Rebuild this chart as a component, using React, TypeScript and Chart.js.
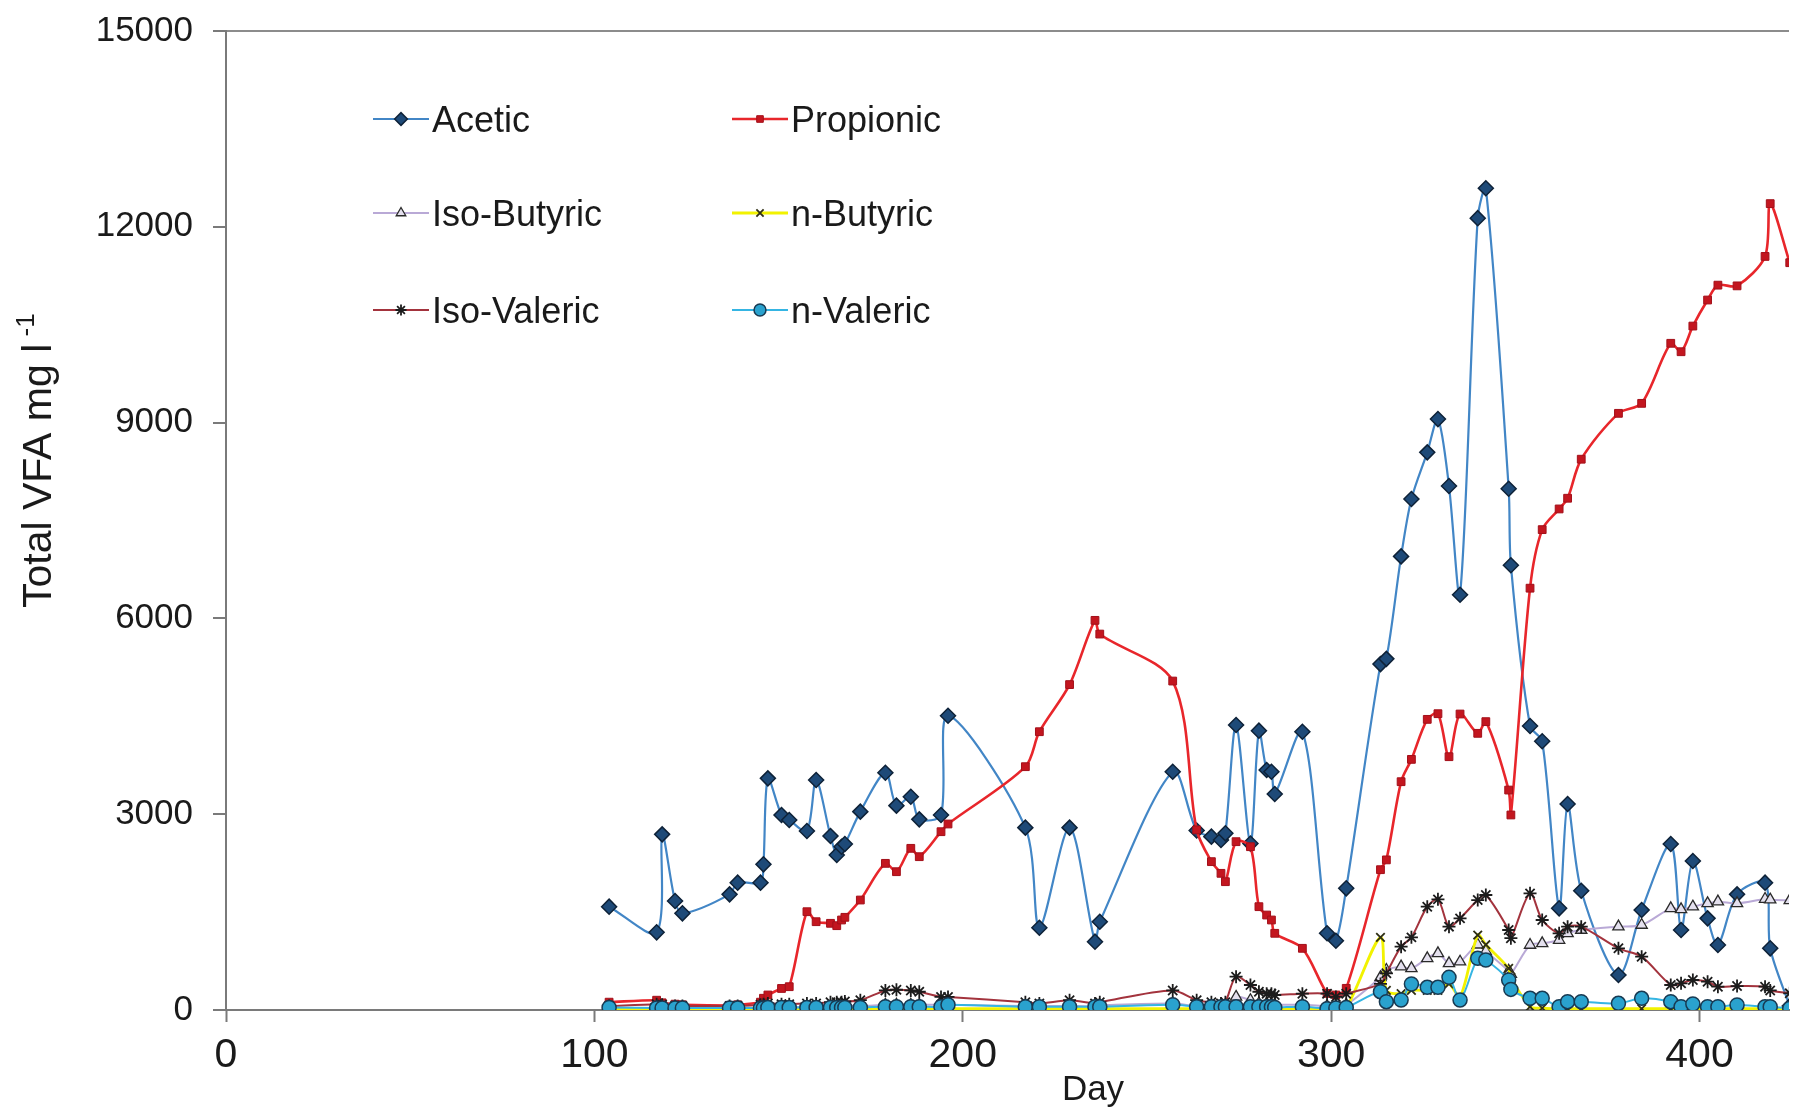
import React, { useEffect, useRef } from "react";
import { Chart, registerables } from "chart.js";
import { drawPoint } from "chart.js/helpers";

Chart.register(...registerables);

const W = 1798;
const H = 1111;
const XMAX = 424.3;
const FONT = "'Liberation Sans', Arial, Helvetica, sans-serif";

const xTicks = [0, 100, 200, 300, 400];
const yTicks = [0, 3000, 6000, 9000, 12000, 15000];

const days = [
  104.0, 116.9, 118.4, 121.9, 123.9, 136.7, 138.9, 145.1, 145.9, 147.1,
  150.8, 152.9, 157.7, 160.2, 164.1, 165.8, 167.1, 168.0, 172.2, 179.0,
  182.0, 185.9, 188.2, 194.1, 196.0, 217.0, 220.8, 229.0, 235.9, 237.2,
  257.0, 263.5, 267.5, 270.1, 271.3, 274.2, 278.1, 280.4, 282.5, 283.8,
  284.7, 292.2, 298.9, 301.3, 304.1, 313.4, 315.0, 319.0, 321.8, 326.1,
  329.0, 332.0, 335.0, 339.8, 342.0, 348.2, 348.8, 354.0, 357.3, 361.9,
  364.2, 367.9, 378.0, 384.3, 392.2, 395.0, 398.2, 402.2, 405.0, 410.2,
  417.8, 419.2, 424.5,
];

const acetic = [
  1583, 1190, 2691, 1670, 1481, 1772, 1951, 1951, 2232, 3549,
  2988, 2911, 2742, 3524, 2666, 2375, 2502, 2543, 3039, 3636,
  3131, 3268, 2921, 2988, 4509, 2794, 1261, 2794, 1047, 1353,
  3651, 2750, 2656, 2604, 2707, 4366, 2550, 4280, 3677, 3650,
  3309, 4264, 1175, 1062, 1864, 5300, 5380, 6950, 7829, 8544,
  9054, 8028, 6363, 12132, 12590, 7987, 6815, 4352, 4118, 1558,
  3156, 1828, 536, 1532, 2543, 1225, 2283, 1404, 996, 1772,
  1951, 945, 60,
];

const propionic = [
  120, 150, 110, 90, 80, 70, 80, 120, 180, 230,
  330, 357, 1506, 1353, 1328, 1292, 1379, 1420, 1685, 2247,
  2119, 2477, 2349, 2732, 2850, 3728, 4264, 4986, 5970, 5760,
  5040, 2760, 2273, 2094, 1966, 2579, 2502, 1583, 1455, 1379,
  1175, 945, 255, 230, 332, 2150, 2300, 3498, 3840, 4453,
  4540, 3881, 4535, 4239, 4418, 3370, 2988, 6463, 7360, 7677,
  7841, 8439, 9142, 9295, 10215, 10086, 10479, 10878, 11106, 11095,
  11546, 12355, 11450,
];

const isoButyric = [
  30, 30, 40, 30, 30, 30, 30, 40, 40, 40,
  40, 40, 50, 50, 60, 60, 60, 60, 60, 80,
  80, 80, 80, 80, 80, 60, 60, 60, 60, 70,
  100, 60, 60, 60, 60, 200, 150, 100, 100, 80,
  80, 80, 60, 60, 80, 500, 613, 664, 638, 792,
  868, 715, 740, 1000, 900, 600, 550, 996, 1021, 1072,
  1175, 1226, 1277, 1302, 1558, 1542, 1583, 1634, 1660, 1634,
  1700, 1690, 1680,
];

const nButyric = [
  10, 10, 10, 10, 10, 10, 10, 10, 10, 10,
  10, 10, 10, 10, 10, 10, 10, 10, 10, 20,
  20, 20, 20, 20, 20, 20, 20, 20, 20, 20,
  20, 20, 20, 20, 20, 30, 30, 20, 20, 20,
  20, 20, 20, 20, 30, 1113, 300, 250, 300, 300,
  300, 400, 200, 1149, 1000, 638, 500, 50, 30, 20,
  20, 20, 20, 20, 20, 20, 20, 20, 20, 20,
  20, 20, 20,
];

const isoValeric = [
  60, 90, 80, 60, 60, 60, 60, 80, 90, 100,
  90, 90, 100, 100, 120, 120, 120, 130, 150, 300,
  310, 300, 280, 200, 200, 120, 100, 150, 100, 120,
  300, 150, 120, 100, 120, 510, 383, 280, 250, 250,
  230, 250, 250, 200, 250, 400, 562, 970, 1113, 1583,
  1695, 1277, 1404, 1685, 1762, 1226, 1100, 1787, 1379, 1175,
  1277, 1277, 945, 817, 383, 408, 460, 434, 357, 367,
  357, 300, 255,
];

const nValeric = [
  40, 30, 30, 30, 30, 30, 30, 30, 30, 40,
  40, 40, 40, 40, 40, 40, 40, 40, 40, 50,
  50, 50, 50, 50, 80, 50, 50, 50, 50, 50,
  80, 50, 50, 50, 50, 50, 50, 50, 50, 50,
  40, 50, 20, 30, 40, 281, 128, 153, 398, 347,
  347, 500, 153, 792, 766, 460, 316, 179, 179, 51,
  128, 128, 102, 179, 128, 51, 92, 51, 51, 77,
  51, 51, 25,
];

const seriesNames = ["Acetic", "Propionic", "Iso-Butyric", "n-Butyric", "Iso-Valeric", "n-Valeric"];
const seriesValues = [acetic, propionic, isoButyric, nButyric, isoValeric, nValeric];

const styles = [
  { line: "#4286C6", lw: 2.2, ps: "rectRot", r: 7.5, fill: "#1E4A78", stroke: "#0E2238", bw: 1.5 },
  { line: "#E8262B", lw: 2.6, ps: "rect", r: 5.5, fill: "#C3161F", stroke: "#A3101A", bw: 1 },
  { line: "#B9A9D6", lw: 2, ps: "triangle", r: 6.5, fill: "#E4E0EE", stroke: "#2A2A2A", bw: 1.3 },
  { line: "#F2F200", lw: 2.8, ps: "crossRot", r: 6, fill: "#3A3A10", stroke: "#2E2E14", bw: 1.8 },
  { line: "#A3333D", lw: 2, ps: "star", r: 6.5, fill: "#1C1C1C", stroke: "#1C1C1C", bw: 1.8 },
  { line: "#35B5E3", lw: 2, ps: "circle", r: 7, fill: "#2AA2CE", stroke: "#183A52", bw: 1.5 },
];

const legendPos = [
  { x: 373, y: 119 },
  { x: 732, y: 119 },
  { x: 373, y: 213 },
  { x: 732, y: 213 },
  { x: 373, y: 310 },
  { x: 732, y: 310 },
];

const textPlugin = {
  id: "textPlugin",
  afterDraw(chart: any) {
    const ctx = chart.ctx as CanvasRenderingContext2D;
    ctx.save();
    seriesNames.forEach((name, i) => {
      const s = styles[i];
      const p = legendPos[i];
      ctx.strokeStyle = s.line;
      ctx.lineWidth = s.lw;
      ctx.beginPath();
      ctx.moveTo(p.x, p.y);
      ctx.lineTo(p.x + 56, p.y);
      ctx.stroke();
      ctx.fillStyle = s.fill;
      ctx.strokeStyle = s.stroke;
      ctx.lineWidth = s.bw;
      drawPoint(ctx, { pointStyle: s.ps, radius: s.r * 0.85, rotation: 0, borderWidth: s.bw }, p.x + 28, p.y);
      ctx.fillStyle = "#1a1a1a";
      ctx.font = `36px ${FONT}`;
      ctx.textAlign = "left";
      ctx.textBaseline = "alphabetic";
      ctx.fillText(name, p.x + 59, p.y + 13);
    });
    ctx.fillStyle = "#1a1a1a";
    ctx.font = `35px ${FONT}`;
    ctx.textAlign = "center";
    ctx.textBaseline = "alphabetic";
    ctx.fillText("Day", 1093, 1100);
    ctx.save();
    ctx.translate(51, 608);
    ctx.rotate(-Math.PI / 2);
    ctx.textAlign = "left";
    ctx.font = `41px ${FONT}`;
    const main = "Total VFA mg l";
    ctx.fillText(main, 0, 0);
    const w = ctx.measureText(main).width;
    ctx.font = `26px ${FONT}`;
    ctx.fillText(" -1", w, -17);
    ctx.restore();
    ctx.restore();
  },
};

export default function App() {
  const ref = useRef<HTMLCanvasElement>(null);
  useEffect(() => {
    document.body.style.margin = "0";
    const canvas = ref.current;
    if (!canvas) return;
    const datasets = seriesNames.map((name, i) => {
      const s = styles[i];
      return {
        label: name,
        data: days.map((d, j) => ({ x: d, y: seriesValues[i][j] })),
        borderColor: s.line,
        borderWidth: s.lw,
        backgroundColor: s.fill,
        pointStyle: s.ps,
        pointRadius: s.r,
        pointBackgroundColor: s.fill,
        pointBorderColor: s.stroke,
        pointBorderWidth: s.bw,
        tension: 0.3,
        fill: false,
        order: 6 - i,
      };
    });
    const chart = new Chart(canvas, {
      type: "line",
      data: { datasets },
      options: {
        responsive: false,
        animation: false,
        devicePixelRatio: 1,
        layout: { padding: { top: 31, right: 0, left: 0, bottom: 0 } },
        plugins: { legend: { display: false }, tooltip: { enabled: false } },
        scales: {
          x: {
            type: "linear",
            min: 0,
            max: XMAX,
            afterFit: (s: any) => {
              s.height = 101;
              s.paddingLeft = 0;
              s.paddingRight = 0;
            },
            afterBuildTicks: (s: any) => {
              s.ticks = xTicks.map((v) => ({ value: v }));
            },
            ticks: {
              includeBounds: false,
              stepSize: 100,
              maxRotation: 0,
              padding: 9,
              color: "#1a1a1a",
              font: { family: FONT, size: 41 },
              callback: (v: any) => String(v),
            },
            grid: { drawOnChartArea: false, tickLength: 12, tickColor: "#7a7a7a", tickWidth: 2 },
            border: { color: "#7a7a7a", width: 2 },
          },
          y: {
            min: 0,
            max: 15000,
            afterFit: (s: any) => {
              s.width = 226;
              s.paddingTop = 0;
              s.paddingBottom = 0;
            },
            afterBuildTicks: (s: any) => {
              s.ticks = yTicks.map((v) => ({ value: v }));
            },
            ticks: {
              includeBounds: false,
              stepSize: 3000,
              padding: 20,
              color: "#1a1a1a",
              font: { family: FONT, size: 35 },
              callback: (v: any) => String(v),
            },
            grid: {
              color: (c: any) => (c.tick && c.tick.value === 15000 ? "#8c8c8c" : "rgba(0,0,0,0)"),
              lineWidth: 2,
              tickLength: 13,
              tickColor: "#7a7a7a",
              tickWidth: 2,
            },
            border: { color: "#7a7a7a", width: 2 },
          },
        },
      },
      plugins: [textPlugin],
    } as any);
    return () => chart.destroy();
  }, []);
  return <canvas ref={ref} width={W} height={H} style={{ display: "block", width: W, height: H }} />;
}
